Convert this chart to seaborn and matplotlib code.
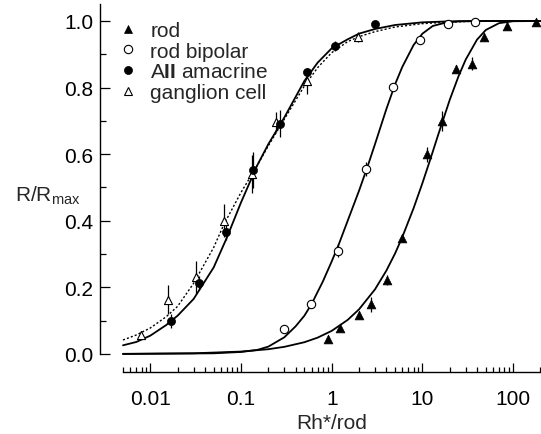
import numpy as np
import pandas as pd
import matplotlib
matplotlib.use("Agg")
import matplotlib.pyplot as plt
from matplotlib.lines import Line2D
from matplotlib.ticker import FixedLocator, FixedFormatter, NullFormatter
import seaborn as sns

# ---------------- data ----------------
rod_x = [0.90, 1.24, 2.0, 2.71, 4.04, 6.0, 11.1, 16.6, 23.5, 34.9, 47.8, 85.7, 177]
rod_y = [0.044, 0.079, 0.117, 0.149, 0.222, 0.347, 0.60, 0.70, 0.856, 0.872, 0.953, 0.986, 0.998]
rod_err = [0, 0, 0, 0.022, 0.016, 0.01, 0.022, 0.03, 0.012, 0.02, 0, 0, 0]

bip_x = [0.296, 0.59, 1.17, 2.37, 4.78, 9.5, 19.1, 38.3]
bip_y = [0.076, 0.151, 0.31, 0.556, 0.801, 0.942, 0.991, 0.997]
bip_err = [0, 0.012, 0.02, 0.022, 0, 0, 0, 0]

aii_x = [0.017, 0.034, 0.068, 0.137, 0.269, 0.54, 1.1, 2.98]
aii_y = [0.099, 0.213, 0.367, 0.553, 0.692, 0.846, 0.926, 0.991]
aii_err = [0.022, 0.02, 0.025, 0.055, 0.04, 0.01, 0.015, 0]

gc_x = [0.0078, 0.0157, 0.0319, 0.065, 0.132, 0.244, 0.53, 1.93]
gc_y = [0.058, 0.163, 0.23, 0.40, 0.54, 0.696, 0.82, 0.953]
gc_err = [0.012, 0.044, 0.05, 0.05, 0.058, 0.03, 0.04, 0.015]

# fitted curves
rod_fit_x = [0.005, 0.03, 0.1, 0.2, 0.3, 0.5, 0.7, 1, 1.5, 2, 3, 4, 5, 6, 8, 10, 12, 15,
             20, 25, 30, 40, 50, 70, 100, 203]
rod_fit_y = [0.0004, 0.002, 0.0072, 0.0143, 0.0214, 0.0353, 0.0491, 0.0694, 0.1023, 0.134,
             0.194, 0.250, 0.302, 0.351, 0.438, 0.513, 0.578, 0.660, 0.763, 0.834, 0.884,
             0.944, 0.973, 0.9935, 0.9993, 1.0]

bip_fit_x = [0.005, 0.05, 0.1, 0.15, 0.2, 0.3, 0.4, 0.5, 0.6, 0.8, 1.0, 1.2, 1.5, 2.0, 2.5,
             3.0, 4.0, 5.0, 6.0, 8.0, 10, 13, 18, 25, 40, 203]
bip_fit_y = [0.0, 0.002, 0.006, 0.012, 0.022, 0.05, 0.083, 0.115, 0.15, 0.218, 0.278, 0.33,
             0.40, 0.49, 0.565, 0.63, 0.735, 0.81, 0.862, 0.928, 0.962, 0.985, 0.995, 0.999,
             1.0, 1.0]

aii_fit_x = [0.005, 0.007, 0.01, 0.015, 0.02, 0.03, 0.05, 0.07, 0.1, 0.15, 0.2, 0.3, 0.5,
             0.7, 1, 1.5, 2, 3, 5, 10, 20, 50, 203]
aii_fit_y = [0.026, 0.036, 0.055, 0.087, 0.115, 0.165, 0.26, 0.35, 0.455, 0.565, 0.63, 0.71,
             0.82, 0.875, 0.918, 0.945, 0.962, 0.976, 0.988, 0.996, 0.999, 1.0, 1.0]

gc_fit_x = [0.005, 0.007, 0.01, 0.015, 0.02, 0.03, 0.05, 0.065, 0.1, 0.15, 0.2, 0.3, 0.5,
            0.7, 1.0, 1.5, 2, 3, 5, 10, 20, 50, 203]
gc_fit_y = [0.042, 0.057, 0.078, 0.112, 0.143, 0.212, 0.32, 0.39, 0.485, 0.565, 0.625, 0.705,
            0.805, 0.86, 0.905, 0.938, 0.953, 0.968, 0.982, 0.992, 0.997, 1.0, 1.0]

legend_labels = ["rod", "rod bipolar", r"A$\mathbf{II}$ amacrine", "ganglion cell"]
x_tick_vals = [0.01, 0.1, 1, 10, 100]
x_tick_labels = ["0.01", "0.1", "1", "10", "100"]
y_tick_vals = [0.0, 0.2, 0.4, 0.6, 0.8, 1.0]
y_tick_labels = ["0.0", "0.2", "0.4", "0.6", "0.8", "1.0"]

# ---------------- style ----------------
sns.set_theme(style="ticks")
plt.rcParams["font.family"] = ["Liberation Sans", "DejaVu Sans"]
plt.rcParams["mathtext.fontset"] = "custom"
plt.rcParams["mathtext.rm"] = "Liberation Sans"
plt.rcParams["mathtext.it"] = "Liberation Sans:italic"
plt.rcParams["mathtext.bf"] = "Liberation Sans:bold"

FS = 15
W, H = 541, 435
fig = plt.figure(figsize=(W / 100, H / 100), dpi=100)
fig.patch.set_facecolor("white")
ax = fig.add_axes([100 / W, 1 - 358.3 / H, 441 / W, (358.3 - 5.35) / H])
ax.set_facecolor("white")

ax.set_xscale("log")
ax.set_xlim(0.002789, 203)
ax.set_ylim(-0.01, 1.05)

# curves
for fx, fy in [(rod_fit_x, rod_fit_y), (bip_fit_x, bip_fit_y), (aii_fit_x, aii_fit_y)]:
    sns.lineplot(x=fx, y=fy, ax=ax, color="black", linewidth=1.3,
                 estimator=None, sort=False, legend=False, zorder=2)
sns.lineplot(x=gc_fit_x, y=gc_fit_y, ax=ax, color="black", linewidth=1.0,
             estimator=None, sort=False, legend=False, zorder=2)
ax.lines[-1].set_linestyle((0, (1.5, 1.5)))

# error bars
for xs, ys, es in [(rod_x, rod_y, rod_err), (bip_x, bip_y, bip_err),
                   (aii_x, aii_y, aii_err), (gc_x, gc_y, gc_err)]:
    ax.errorbar(xs, ys, yerr=es, fmt="none", ecolor="black", elinewidth=0.9,
                capsize=0, zorder=3)

# markers
sns.scatterplot(x=gc_x, y=gc_y, ax=ax, marker="^", s=34, facecolor="white",
                edgecolor="black", linewidth=0.8, zorder=4, legend=False)
sns.scatterplot(x=aii_x, y=aii_y, ax=ax, marker="o", s=34, color="black",
                edgecolor="black", linewidth=0.5, zorder=5, legend=False)
sns.scatterplot(x=bip_x, y=bip_y, ax=ax, marker="o", s=36, facecolor="white",
                edgecolor="black", linewidth=0.8, zorder=5, legend=False)
sns.scatterplot(x=rod_x, y=rod_y, ax=ax, marker="^", s=40, color="black",
                edgecolor="black", linewidth=0.5, zorder=5, legend=False)

# spines
sns.despine(ax=ax)
ax.spines["bottom"].set_position(("outward", 14.7 * 0.72))
ax.spines["bottom"].set_bounds(0.005, 203)
ax.spines["left"].set_bounds(0, 1.05)
for s in ("left", "bottom"):
    ax.spines[s].set_linewidth(1.0)
    ax.spines[s].set_color("black")

# ticks
ax.xaxis.set_major_locator(FixedLocator(x_tick_vals))
ax.xaxis.set_major_formatter(FixedFormatter(x_tick_labels))
minor = [m * 10.0 ** e for e in range(-3, 3) for m in range(2, 10)
         if 0.005 <= m * 10.0 ** e <= 203]
ax.xaxis.set_minor_locator(FixedLocator(minor))
ax.xaxis.set_minor_formatter(NullFormatter())
ax.yaxis.set_major_locator(FixedLocator(y_tick_vals))
ax.yaxis.set_major_formatter(FixedFormatter(y_tick_labels))
ax.yaxis.set_minor_locator(FixedLocator([0.1, 0.3, 0.5, 0.7, 0.9]))

ax.tick_params(axis="both", which="both", direction="in", colors="black",
               width=0.9, labelsize=FS)
ax.tick_params(axis="x", which="major", length=6.5, pad=12)
ax.tick_params(axis="x", which="minor", length=3.5)
ax.tick_params(axis="y", which="major", length=7, pad=5)
ax.tick_params(axis="y", which="minor", length=4.3)

# labels
ax.set_xlabel("Rh*/rod", fontsize=FS)
ax.xaxis.set_label_coords(331.7 / W, 1 - 424 / H, transform=fig.transFigure)
ax.xaxis.label.set_va("center")
ax.set_ylabel(r"R/R$_{\mathrm{max}}$", fontsize=FS, rotation=0)
ax.yaxis.set_label_coords(15 / W, 1 - 196 / H, transform=fig.transFigure)
ax.yaxis.label.set_ha("left")
ax.yaxis.label.set_va("center")

# legend
handles = [
    Line2D([], [], linestyle="none", marker="^", markersize=6.3, markerfacecolor="black",
           markeredgecolor="black", markeredgewidth=0.5),
    Line2D([], [], linestyle="none", marker="o", markersize=6.0, markerfacecolor="white",
           markeredgecolor="black", markeredgewidth=0.8),
    Line2D([], [], linestyle="none", marker="o", markersize=5.8, markerfacecolor="black",
           markeredgecolor="black", markeredgewidth=0.5),
    Line2D([], [], linestyle="none", marker="^", markersize=5.8, markerfacecolor="white",
           markeredgecolor="black", markeredgewidth=0.8),
]
ax.legend(handles, legend_labels, loc="upper left",
          bbox_to_anchor=(118 / W, 1 - 22 / H), bbox_transform=fig.transFigure,
          frameon=False, borderpad=0, borderaxespad=0, handlelength=1.0,
          handletextpad=0.55, labelspacing=0.08, fontsize=FS)

fig.savefig("out.png", dpi=100, facecolor="white")
